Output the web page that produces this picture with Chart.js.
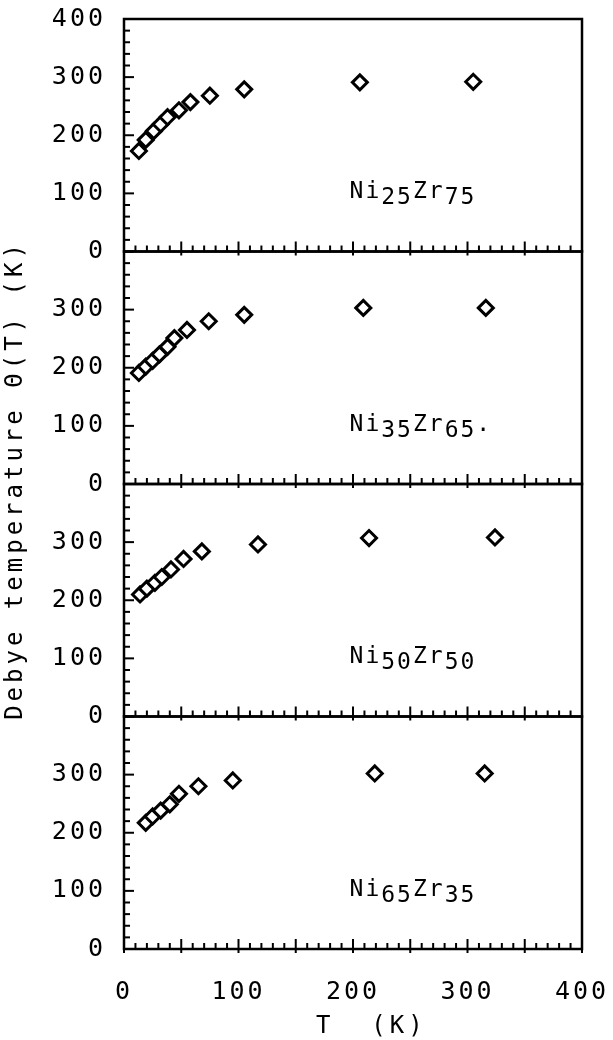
<!DOCTYPE html>
<html><head><meta charset="utf-8">
<script src="https://cdn.jsdelivr.net/npm/chart.js@4.4.1/dist/chart.umd.min.js"></script>
<style>
html,body{margin:0;padding:0;background:#fff;}
#wrap{position:relative;width:613px;height:1040px;}
canvas{display:block;}
</style></head><body>
<div id="wrap"><canvas id="chart" width="613" height="1040"></canvas></div>
<script>
// ---- data ----
const tempNi25Zr75  = [13, 19, 26, 32, 38, 48, 58, 75, 105, 206, 305];
const thetaNi25Zr75 = [173, 192, 207, 219, 231, 243, 257, 268, 279, 291, 292];

const tempNi35Zr65  = [13, 19, 25, 31, 38, 44, 55, 74, 105, 209, 316];
const thetaNi35Zr65 = [191, 202, 212, 223, 236, 251, 265, 280, 291, 303, 303];

const tempNi50Zr50  = [14, 20, 27, 33, 41, 52, 68, 117, 214, 324];
const thetaNi50Zr50 = [210, 220, 230, 240, 253, 271, 284, 296, 307, 308];

const tempNi65Zr35  = [19, 25, 32, 40, 48, 65, 95, 219, 315];
const thetaNi65Zr35 = [217, 228, 238, 249, 267, 280, 290, 302, 302];

// alloy labels: [element, subscript, element, subscript, trailing]
const alloyNames = [
  ['Ni', '25', 'Zr', '75', ''],
  ['Ni', '35', 'Zr', '65', '.'],
  ['Ni', '50', 'Zr', '50', ''],
  ['Ni', '65', 'Zr', '35', '']
];

const xTickValues = [0, 100, 200, 300, 400];
const yTickValuesTop = [0, 100, 200, 300, 400];
const yTickValuesLower = [0, 100, 200, 300];
const yTitleText = 'Debye temperature \u0398(T) (K)';
const xTitleText = 'T  (K)';

// ---- setup ----
const FONT = '"DejaVu Sans Mono", "Liberation Mono", monospace';
const panelIds = ['yA', 'yB', 'yC', 'yD'];
const temps = [tempNi25Zr75, tempNi35Zr65, tempNi50Zr50, tempNi65Zr35];
const thetas = [thetaNi25Zr75, thetaNi35Zr65, thetaNi50Zr50, thetaNi65Zr35];

const datasets = panelIds.map((id, i) => ({
  label: alloyNames[i].join(''),
  data: temps[i].map((t, k) => ({x: t, y: thetas[i][k]})),
  yAxisID: id,
  xAxisID: 'x',
  pointStyle: 'rectRot',
  pointRadius: 7.5,
  pointHoverRadius: 7.5,
  pointBorderWidth: 3,
  borderColor: '#000',
  backgroundColor: '#fff',
  showLine: false
}));

const scales = {
  x: {
    type: 'linear', position: 'bottom', min: 0, max: 400,
    afterBuildTicks: s => { s.ticks = xTickValues.map(v => ({value: v})); },
    afterFit: s => { s.height = 91; s.paddingLeft = 0; s.paddingRight = 0; },
    ticks: { font: {family: FONT, size: 25}, color: '#000', padding: 28, maxRotation: 0, autoSkip: false },
    grid: { display: false, drawTicks: false },
    border: { display: false }
  }
};
panelIds.forEach((id, i) => {
  scales[id] = {
    type: 'linear', position: 'left', min: 0, max: 400,
    stack: 'panels', stackWeight: 1, offset: false,
    weight: 4 - i,
    afterBuildTicks: s => { s.ticks = (i === 0 ? yTickValuesTop : yTickValuesLower).map(v => ({value: v})); },
    afterFit: s => { s.width = 124; s.paddingTop = 0; s.paddingBottom = 0; },
    ticks: { font: {family: FONT, size: 25}, color: '#000', padding: 18, autoSkip: false },
    grid: { display: false, drawTicks: false },
    border: { display: false }
  };
});

const framePlugin = {
  id: 'frames',
  beforeDraw(chart) { chart.ctx.letterSpacing = '3px'; },
  afterDraw(chart) {
    const ctx = chart.ctx, xs = chart.scales.x, ca = chart.chartArea;
    ctx.save();
    ctx.strokeStyle = '#000';
    ctx.fillStyle = '#000';
    const line = (x1, y1, x2, y2) => { ctx.beginPath(); ctx.moveTo(x1, y1); ctx.lineTo(x2, y2); ctx.stroke(); };
    panelIds.forEach((id, i) => {
      const ys = chart.scales[id];
      const top = ys.getPixelForValue(400), bot = ys.getPixelForValue(0);
      ctx.lineWidth = 2.5;
      ctx.strokeRect(ca.left, top, ca.right - ca.left, bot - top);
      ctx.lineWidth = 2;
      for (let v = 0; v <= 400; v += 20) {
        const y = ys.getPixelForValue(v);
        line(ca.left, y, ca.left + (v % 100 === 0 ? 10 : 6), y);
      }
      for (let v = 0; v <= 400; v += 10) {
        const x = xs.getPixelForValue(v);
        if (v % 50 === 0) line(x, bot + 4, x, bot - 10);
        else line(x, bot, x, bot - 6);
      }
      // alloy label
      const parts = alloyNames[i];
      let x = xs.getPixelForValue(197);
      const yb = ys.getPixelForValue(92);
      ctx.font = '23px ' + FONT;
      ctx.letterSpacing = '2px';
      ctx.textAlign = 'left';
      ctx.textBaseline = 'alphabetic';
      parts.forEach((p, k) => {
        if (!p) return;
        const dy = (k % 2 === 1) ? 6 : 0;
        ctx.fillText(p, x, yb + dy);
        x += ctx.measureText(p).width;
      });
    });
    // axis titles
    ctx.font = '24px ' + FONT;
    ctx.letterSpacing = '4px';
    ctx.textBaseline = 'middle';
    ctx.textAlign = 'center';
    ctx.save();
    ctx.translate(16, 480);
    ctx.rotate(-Math.PI / 2);
    ctx.fillText(yTitleText, 0, 0);
    ctx.restore();
    ctx.textAlign = 'left';
    ctx.fillText(xTitleText, 316, 1027);
    ctx.restore();
  }
};

new Chart(document.getElementById('chart'), {
  type: 'scatter',
  data: { datasets },
  options: {
    responsive: false,
    animation: false,
    devicePixelRatio: 1,
    layout: { padding: { top: 19, right: 31, left: 0, bottom: 0 } },
    plugins: { legend: { display: false }, tooltip: { enabled: false } },
    scales
  },
  plugins: [framePlugin]
});
</script>
</body></html>
